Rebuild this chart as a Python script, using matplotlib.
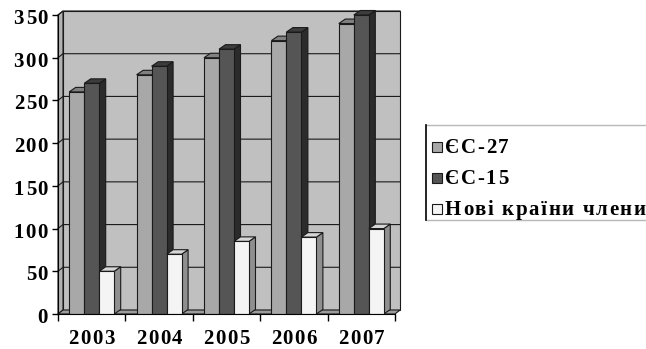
import numpy as np
import matplotlib.pyplot as plt
from matplotlib.patches import Polygon, Rectangle
from matplotlib.lines import Line2D
from matplotlib.font_manager import FontProperties

years = ["2003", "2004", "2005", "2006", "2007"]
series_names = ["ЄС-27", "ЄС-15", "Нові країни члени"]
eu27 = [260, 280, 300, 320, 340]
eu15 = [270, 290, 310, 330, 350]
new_members = [50, 70, 85, 90, 100]
yticks = [0, 50, 100, 150, 200, 250, 300, 350]

series = [eu27, eu15, new_members]
# front, top, side shades for each series
shades = [("#a8a8a8", "#808080", "#7a7a7a"),
          ("#555555", "#3c3c3c", "#2b2b2b"),
          ("#f4f4f4", "#d6d6d6", "#8f8f8f")]
edge = "#1a1a1a"
lw = 0.8

W, H = 646, 349
fig = plt.figure(figsize=(W / 100, H / 100), dpi=100)
fig.patch.set_facecolor("white")
renderer = fig.canvas.get_renderer()
font = FontProperties(family="Liberation Serif", weight="bold", size=15)

# plot area in pixels: x 58..395, y 15..314
left, right, top, bottom = 58, 395, 15, 314
ax = fig.add_axes([left / W, 1 - bottom / H, (right - left) / W, (bottom - top) / H])
n = len(years)
ymax = 350
ax.set_xlim(0, n)
ax.set_ylim(0, ymax)

px_x = (right - left) / n
px_y = (bottom - top) / ymax
wdx, wdy = 5 / px_x, 4 / px_y      # wall depth
bdx, bdy = 6.5 / px_x, 4.5 / px_y  # bar depth


def poly(pts, fc, z):
    ax.add_patch(Polygon(pts, closed=True, facecolor=fc, edgecolor=edge,
                         linewidth=lw, zorder=z, clip_on=False))


def spaced_text(x, y, s, ha="left", track=1.6):
    # text with extra letter spacing, x/y in pixels from the top-left corner
    widths = [renderer.get_text_width_height_descent(c, font, ismath=False)[0] for c in s]
    total = sum(widths) + track * (len(s) - 1)
    if ha == "center":
        x -= total / 2
    elif ha == "right":
        x -= total
    for c, w in zip(s, widths):
        fig.text(x / W, 1 - y / H, c, fontproperties=font, ha="left", va="baseline")
        x += w + track


# back wall, side wall and floor
ax.add_patch(Rectangle((wdx, wdy), n, ymax, facecolor="#c0c0c0", edgecolor=edge,
                       linewidth=lw, zorder=1, clip_on=False))
poly([(0, 0), (wdx, wdy), (wdx, ymax + wdy), (0, ymax)], "#b2b2b2", 1)
poly([(0, 0), (n, 0), (n + wdx, wdy), (wdx, wdy)], "#9c9c9c", 1.5)

# gridlines on the walls
for v in yticks[1:]:
    ax.add_line(Line2D([0, wdx, n + wdx], [v, v + wdy, v + wdy], color=edge,
                       linewidth=lw, zorder=1.2, clip_on=False))

# bars, drawn left to right so that neighbours hide the side faces
bw = 0.2225
gap = (1 - 3 * bw) / 2
z = 2
for i in range(n):
    for k, vals in enumerate(series):
        x0 = i + gap + k * bw
        h = vals[i]
        front, topc, side = shades[k]
        poly([(x0 + bw, 0), (x0 + bw + bdx, bdy), (x0 + bw + bdx, h + bdy), (x0 + bw, h)], side, z)
        poly([(x0, h), (x0 + bdx, h + bdy), (x0 + bw + bdx, h + bdy), (x0 + bw, h)], topc, z)
        ax.bar(x0, h, width=bw, align="edge", color=front, edgecolor=edge,
               linewidth=lw, zorder=z + 0.5)
        z += 1

# axes lines and ticks
for s in ["top", "right"]:
    ax.spines[s].set_visible(False)
ax.spines["left"].set_bounds(0, ymax)
ax.spines["left"].set_zorder(50)
ax.spines["bottom"].set_zorder(50)
ax.set_facecolor("none")
ax.set_yticks(yticks)
ax.set_yticklabels([])
ax.tick_params(axis="y", direction="out", length=4, width=1)
ax.set_xticks(np.arange(n + 1))
ax.set_xticklabels([])
ax.tick_params(axis="x", direction="out", length=5, width=1)

for v in yticks:
    spaced_text(48, bottom - v * px_y + 9, str(v), ha="right")
for i, yr in enumerate(years):
    spaced_text(left + (i + 0.5) * px_x, 344, yr, ha="center")

# legend box
fig.add_artist(Line2D([426 / W, 1.01], [1 - 125 / H] * 2, color="#b8b8b8", linewidth=1))
fig.add_artist(Line2D([426 / W, 1.01], [1 - 220 / H] * 2, color="#b8b8b8", linewidth=1))
fig.add_artist(Line2D([426 / W] * 2, [1 - 125 / H, 1 - 220 / H], color="black", linewidth=1.2))
rows = [153, 184, 215]
for k, name in enumerate(series_names):
    yb = rows[k]
    fig.add_artist(Rectangle((432 / W, 1 - (yb - 1) / H), 10 / W, 10 / H,
                             facecolor=shades[k][0], edgecolor=edge, linewidth=0.8))
    spaced_text(445, yb, name)

fig.savefig("out.png", dpi=100)
